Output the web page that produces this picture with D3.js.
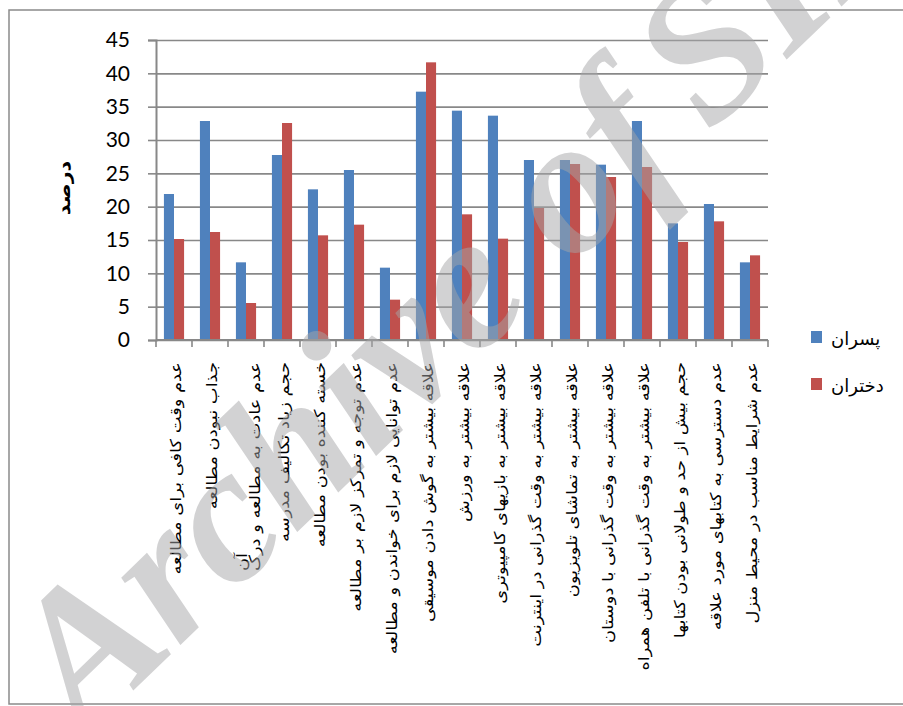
<!DOCTYPE html>
<html>
<head>
<meta charset="utf-8">
<script src="https://cdn.jsdelivr.net/npm/d3@7"></script>
<style>
  body { margin: 0; background: #fff; }
  svg { display: block; }
</style>
</head>
<body>
<svg id="chart" width="903" height="706"></svg>
<script>
// دسته ها (برچسب محور افقی) - "\n" یعنی شکستن خط
const categories = [
    "عدم وقت کافی برای مطالعه",
    "جذاب نبودن مطالعه",
    "عدم عادت به مطالعه و درک\nآن",
    "حجم زیاد تکالیف مدرسه",
    "خسته کننده بودن مطالعه",
    "عدم توجه و تمرکز لازم بر مطالعه",
    "عدم توانایی لازم برای خواندن و مطالعه",
    "علاقه بیشتر به گوش دادن موسیقی",
    "علاقه بیشتر به ورزش",
    "علاقه بیشتر به بازیهای کامپیوتری",
    "علاقه بیشتر به وقت گذرانی در اینترنت",
    "علاقه بیشتر به تماشای تلویزیون",
    "علاقه بیشتر به وقت گذرانی با دوستان",
    "علاقه بیشتر به وقت گذرانی با تلفن همراه",
    "حجم بیش از حد و طولانی بودن کتابها",
    "عدم دسترسی به کتابهای مورد علاقه",
    "عدم شرایط مناسب در محیط منزل"
];
const boys = [21.9, 32.85, 11.65, 27.75, 22.6, 25.5, 10.85, 37.25, 34.4, 33.65, 27, 27, 26.3, 32.85, 17.5, 20.4, 11.65];
const girls = [15.15, 16.2, 5.55, 32.55, 15.7, 17.3, 6.05, 41.65, 18.85, 15.2, 19.8, 26.4, 24.45, 25.95, 14.7, 17.8, 12.7];
const seriesNames = ["پسران", "دختران"];
const yTicks = [0, 5, 10, 15, 20, 25, 30, 35, 40, 45];
const yTitle = "درصد";
const watermark = ["Archive of ", "SID"];

let colors = ["#4f81bd", "#c0504d"];
let gridColor = "#888888";
let plot = { left: 156, right: 768, top: 40, bottom: 340 };

let svg = d3.select("#chart");

// قاب دور نمودار
svg.append("rect")
    .attr("x", 9).attr("y", 10)
    .attr("width", 920).attr("height", 694)
    .attr("fill", "none")
    .attr("stroke", "#8a8a8a")
    .attr("stroke-width", 1.5);

let x = d3.scaleBand()
    .domain(d3.range(categories.length))
    .range([plot.left, plot.right]);
let xs = d3.scaleBand()
    .domain(d3.range(seriesNames.length))
    .range([x.bandwidth() * 0.22, x.bandwidth() * 0.78]);
let y = d3.scaleLinear()
    .domain([0, 45])
    .range([plot.bottom, plot.top]);

// خطوط شبکه
let grid = svg.append("g")
    .attr("transform", `translate(${plot.left},0)`)
    .call(d3.axisLeft(y).tickValues(yTicks).tickSize(-(plot.right - plot.left)).tickFormat(""));
grid.select(".domain").remove();
grid.selectAll("line").attr("stroke", gridColor).attr("stroke-width", 1.6);

// محور عمودی
let yAxis = svg.append("g")
    .attr("transform", `translate(${plot.left},0)`)
    .call(d3.axisLeft(y).tickValues(yTicks).tickSize(8).tickPadding(18));
yAxis.select(".domain").attr("stroke", gridColor).attr("stroke-width", 2);
yAxis.selectAll("line").attr("stroke", gridColor).attr("stroke-width", 1.6);
yAxis.selectAll("text")
    .attr("font-family", "Lato, 'Open Sans', sans-serif")
    .attr("font-size", "21px")
    .attr("fill", "#000");

// میله ها
let groups = svg.append("g").selectAll("g")
    .data(categories.map((c, i) => [boys[i], girls[i]]))
    .join("g")
    .attr("transform", (d, i) => `translate(${x(i)},0)`);
groups.selectAll("rect")
    .data(d => d)
    .join("rect")
    .attr("x", (d, j) => xs(j))
    .attr("width", xs.bandwidth())
    .attr("y", d => y(d))
    .attr("height", d => y(0) - y(d))
    .attr("fill", (d, j) => colors[j]);

// محور افقی
svg.append("line")
    .attr("x1", plot.left).attr("x2", plot.right)
    .attr("y1", y(0)).attr("y2", y(0))
    .attr("stroke", gridColor).attr("stroke-width", 2);
svg.append("g").selectAll("line")
    .data(d3.range(categories.length + 1))
    .join("line")
    .attr("x1", i => plot.left + i * x.step())
    .attr("x2", i => plot.left + i * x.step())
    .attr("y1", y(0)).attr("y2", y(0) + 7)
    .attr("stroke", gridColor).attr("stroke-width", 1.6);

// برچسب دسته ها - چرخش ۹۰ درجه، کمی کشیده در طول
let labelTop = 362;
let lineGap = 13;
let stretch = 1.19;
categories.forEach((c, i) => {
    let lines = c.split("\n");
    let cx = x(i) + x.bandwidth() / 2 + 2;
    let first = null;
    lines.forEach((t, k) => {
        let off = (lines.length - 1) * lineGap / 2 - k * lineGap;
        let tx = svg.append("text")
            .attr("font-family", "'DejaVu Sans', sans-serif")
            .attr("font-size", "15px")
            .attr("fill", "#000")
            .attr("dominant-baseline", "central")
            .text(t);
        if (k === 0) {
            tx.attr("text-anchor", "end")
                .attr("transform", `translate(${cx + off},${labelTop}) rotate(-90) scale(${stretch},1)`);
            first = tx;
        } else {
            // خط دوم به انتهای خط اول می چسبد
            let len = first.node().getComputedTextLength() * stretch;
            tx.attr("text-anchor", "start")
                .attr("transform", `translate(${cx + off},${labelTop + len}) rotate(-90) scale(${stretch},1)`);
        }
    });
});

// عنوان محور عمودی
svg.append("text")
    .attr("transform", "translate(64,188) rotate(-90) scale(1.15,1)")
    .attr("text-anchor", "middle")
    .attr("dominant-baseline", "central")
    .attr("font-family", "'DejaVu Sans', sans-serif")
    .attr("font-weight", "bold")
    .attr("font-size", "18px")
    .text(yTitle);

// راهنما
let legend = svg.append("g").selectAll("g")
    .data(seriesNames)
    .join("g")
    .attr("transform", (d, i) => `translate(811,${331 + i * 47})`);
legend.append("rect")
    .attr("width", 11).attr("height", 12)
    .attr("fill", (d, i) => colors[i]);
legend.append("text")
    .attr("x", 20).attr("y", 7)
    .attr("dominant-baseline", "central")
    .attr("font-family", "'DejaVu Sans', sans-serif")
    .attr("font-size", "18px")
    .text(d => d);

// واترمارک
let wm = svg.append("text")
    .attr("transform", "translate(84,738) rotate(-44)")
    .attr("font-family", "'Liberation Serif', 'DejaVu Serif', serif")
    .attr("font-weight", "bold")
    .attr("font-style", "italic")
    .attr("font-size", "195px")
    .attr("fill", "#a6a6a8")
    .attr("opacity", 0.5);
wm.append("tspan").text(watermark[0]);
wm.append("tspan").attr("dx", -18).text(watermark[1]);
</script>
</body>
</html>
